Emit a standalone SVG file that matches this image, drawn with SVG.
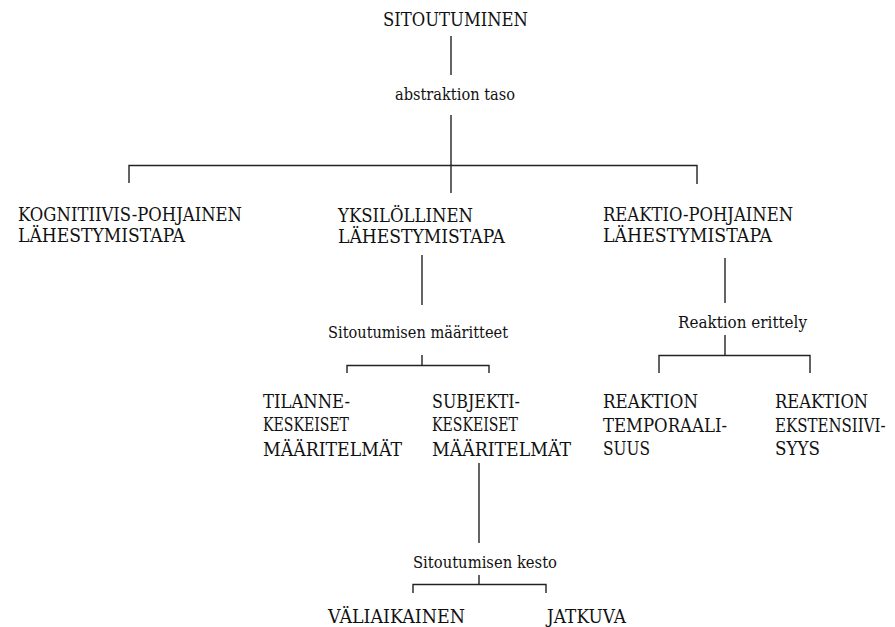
<svg xmlns="http://www.w3.org/2000/svg" width="895" height="627" viewBox="0 0 895 627">
  <style>
    .bg { fill: #ffffff; }
    .caps { font-family: "DejaVu Serif", "Liberation Serif", serif; font-size: 19px; fill: #111; }
    .lbl { font-family: "DejaVu Serif", "Liberation Serif", serif; font-size: 16px; fill: #111; }
    .ln { stroke: #222; stroke-width: 1.4; fill: none; }
  </style>
  <rect class="bg" x="0" y="0" width="895" height="627"/>

  <g id="connectors">
    <!-- root to first label -->
    <path class="ln" d="M451 36V75"/>
    <!-- abstraction level branch -->
    <path class="ln" d="M451 115V193"/>
    <path class="ln" d="M129 183V165.5H697V184"/>
    <!-- individual approach to its descriptors -->
    <path class="ln" d="M422 255V305"/>
    <path class="ln" d="M422 355V365.5"/>
    <path class="ln" d="M347 373V365.5H489V373"/>
    <!-- reaction approach to its breakdown -->
    <path class="ln" d="M725 258V303"/>
    <path class="ln" d="M725 335V355.5"/>
    <path class="ln" d="M659 373V355.5H810V373"/>
    <!-- subject-centred definitions to duration -->
    <path class="ln" d="M479 463V543"/>
    <path class="ln" d="M479 575V584.5"/>
    <path class="ln" d="M413 593V584.5H546V593"/>
  </g>

  <g id="root">
    <text class="caps" x="383" y="26" textLength="145" lengthAdjust="spacingAndGlyphs">SITOUTUMINEN</text>
  </g>
  <g id="abstraction-level">
    <text class="lbl" x="395" y="100" textLength="120" lengthAdjust="spacingAndGlyphs">abstraktion taso</text>
  </g>
  <g id="cognitive">
    <text class="caps" x="18" y="221" textLength="224" lengthAdjust="spacingAndGlyphs">KOGNITIIVIS-POHJAINEN</text>
    <text class="caps" x="18" y="242" textLength="167" lengthAdjust="spacingAndGlyphs">LÄHESTYMISTAPA</text>
  </g>
  <g id="individual">
    <text class="caps" x="338" y="222" textLength="135" lengthAdjust="spacingAndGlyphs">YKSILÖLLINEN</text>
    <text class="caps" x="338" y="243" textLength="167" lengthAdjust="spacingAndGlyphs">LÄHESTYMISTAPA</text>
  </g>
  <g id="reaction">
    <text class="caps" x="603" y="221" textLength="190" lengthAdjust="spacingAndGlyphs">REAKTIO-POHJAINEN</text>
    <text class="caps" x="603" y="242" textLength="169" lengthAdjust="spacingAndGlyphs">LÄHESTYMISTAPA</text>
  </g>
  <g id="descriptors">
    <text class="lbl" x="328" y="338" textLength="180" lengthAdjust="spacingAndGlyphs">Sitoutumisen määritteet</text>
  </g>
  <g id="reaction-breakdown">
    <text class="lbl" x="678" y="328" textLength="129" lengthAdjust="spacingAndGlyphs">Reaktion erittely</text>
  </g>
  <g id="situational">
    <text class="caps" x="263" y="408" textLength="87" lengthAdjust="spacingAndGlyphs">TILANNE-</text>
    <text class="caps" x="263" y="431" textLength="86" lengthAdjust="spacingAndGlyphs">KESKEISET</text>
    <text class="caps" x="263" y="456" textLength="139" lengthAdjust="spacingAndGlyphs">MÄÄRITELMÄT</text>
  </g>
  <g id="subject">
    <text class="caps" x="432" y="408" textLength="88" lengthAdjust="spacingAndGlyphs">SUBJEKTI-</text>
    <text class="caps" x="432" y="431" textLength="86" lengthAdjust="spacingAndGlyphs">KESKEISET</text>
    <text class="caps" x="432" y="456" textLength="139" lengthAdjust="spacingAndGlyphs">MÄÄRITELMÄT</text>
  </g>
  <g id="temporality">
    <text class="caps" x="603" y="408" textLength="95" lengthAdjust="spacingAndGlyphs">REAKTION</text>
    <text class="caps" x="603" y="432" textLength="124" lengthAdjust="spacingAndGlyphs">TEMPORAALI-</text>
    <text class="caps" x="603" y="455" textLength="47" lengthAdjust="spacingAndGlyphs">SUUS</text>
  </g>
  <g id="extensiveness">
    <text class="caps" x="775" y="408" textLength="93" lengthAdjust="spacingAndGlyphs">REAKTION</text>
    <text class="caps" transform="translate(775 432) scale(0.79 1)">EKSTENSIIVI-</text>
    <text class="caps" x="775" y="455" textLength="45" lengthAdjust="spacingAndGlyphs">SYYS</text>
  </g>
  <g id="duration">
    <text class="lbl" x="413" y="568" textLength="144" lengthAdjust="spacingAndGlyphs">Sitoutumisen kesto</text>
  </g>
  <g id="temporary">
    <text class="caps" x="328" y="623" textLength="137" lengthAdjust="spacingAndGlyphs">VÄLIAIKAINEN</text>
  </g>
  <g id="continuous">
    <text class="caps" x="547" y="623" textLength="79" lengthAdjust="spacingAndGlyphs">JATKUVA</text>
  </g>
</svg>
